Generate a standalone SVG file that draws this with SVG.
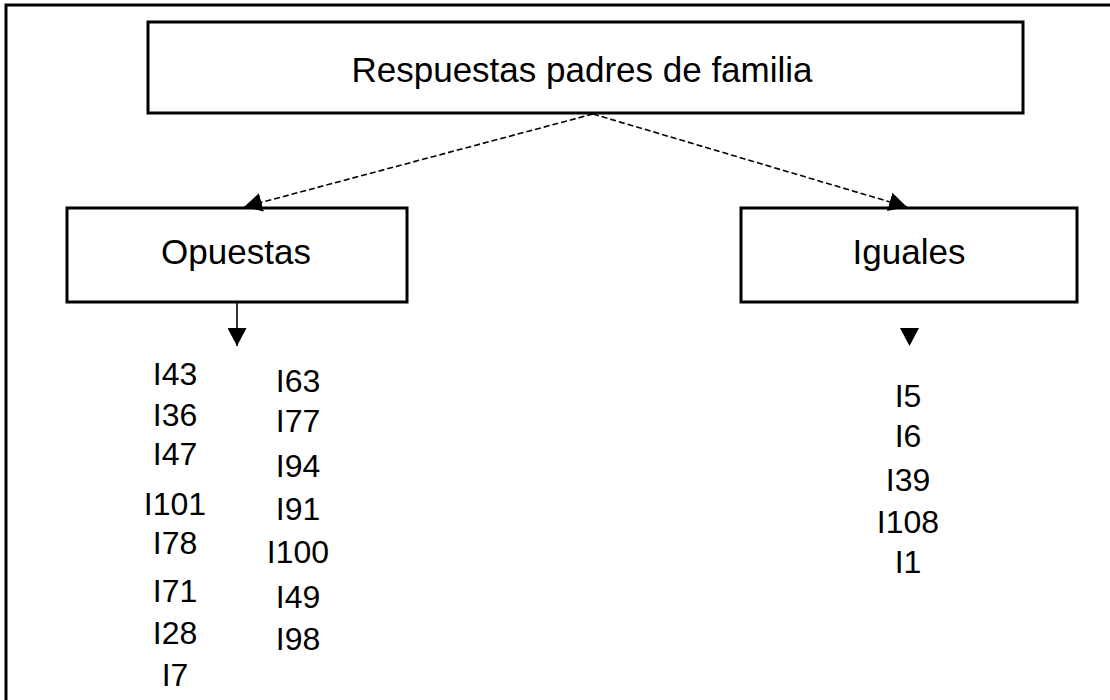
<svg xmlns="http://www.w3.org/2000/svg" width="1110" height="700" viewBox="0 0 1110 700">
<style>
.box{fill:#fff;stroke:#000;stroke-width:3}
.lbl{font-family:"Liberation Sans",Arial,sans-serif;font-size:35px;fill:#000;text-anchor:middle}
.itm{font-family:"Liberation Sans",Arial,sans-serif;font-size:32px;fill:#000;text-anchor:middle}
.dash{fill:none;stroke:#000;stroke-width:1.6;stroke-dasharray:6 3}
.solid{fill:none;stroke:#000;stroke-width:1.6}
</style>
<defs>
<marker id="ah" viewBox="0 0 18 19" refX="18" refY="9.5" markerWidth="18" markerHeight="19" markerUnits="userSpaceOnUse" orient="auto">
<path d="M0,0 L18,9.5 L0,19 Z" fill="#000"/>
</marker>
</defs>
<rect width="1110" height="700" fill="#fff"/>
<path d="M6,700 V5 H1110" fill="none" stroke="#000" stroke-width="3"/>
<g id="root">
<rect class="box" x="148" y="22" width="875" height="91"/>
<text class="lbl" x="582" y="82">Respuestas padres de familia</text>
</g>
<g id="opuestas">
<rect class="box" x="67" y="208" width="340" height="94"/>
<text class="lbl" x="236" y="264">Opuestas</text>
</g>
<g id="iguales">
<rect class="box" x="741" y="208" width="336" height="94"/>
<text class="lbl" x="909" y="264">Iguales</text>
</g>
<g id="connectors">
<line class="dash" x1="593" y1="114" x2="244" y2="207" marker-end="url(#ah)"/>
<line class="dash" x1="593" y1="114" x2="907" y2="207" marker-end="url(#ah)"/>
<line class="solid" x1="237" y1="303" x2="237" y2="346" marker-end="url(#ah)"/>
<path d="M900,328 L919,328 L909.5,346 Z" fill="#000"/>
</g>
<g id="opuestas-list">
<text class="itm" x="175" y="385">I43</text>
<text class="itm" x="175" y="426">I36</text>
<text class="itm" x="175" y="465">I47</text>
<text class="itm" x="175" y="515">I101</text>
<text class="itm" x="175" y="554">I78</text>
<text class="itm" x="175" y="602">I71</text>
<text class="itm" x="175" y="644">I28</text>
<text class="itm" x="175" y="686">I7</text>
<text class="itm" x="298" y="392">I63</text>
<text class="itm" x="298" y="432">I77</text>
<text class="itm" x="298" y="477">I94</text>
<text class="itm" x="298" y="520">I91</text>
<text class="itm" x="298" y="563">I100</text>
<text class="itm" x="298" y="608">I49</text>
<text class="itm" x="298" y="650">I98</text>
</g>
<g id="iguales-list">
<text class="itm" x="908" y="407">I5</text>
<text class="itm" x="908" y="447">I6</text>
<text class="itm" x="908" y="491">I39</text>
<text class="itm" x="908" y="533">I108</text>
<text class="itm" x="908" y="573">I1</text>
</g>
</svg>
